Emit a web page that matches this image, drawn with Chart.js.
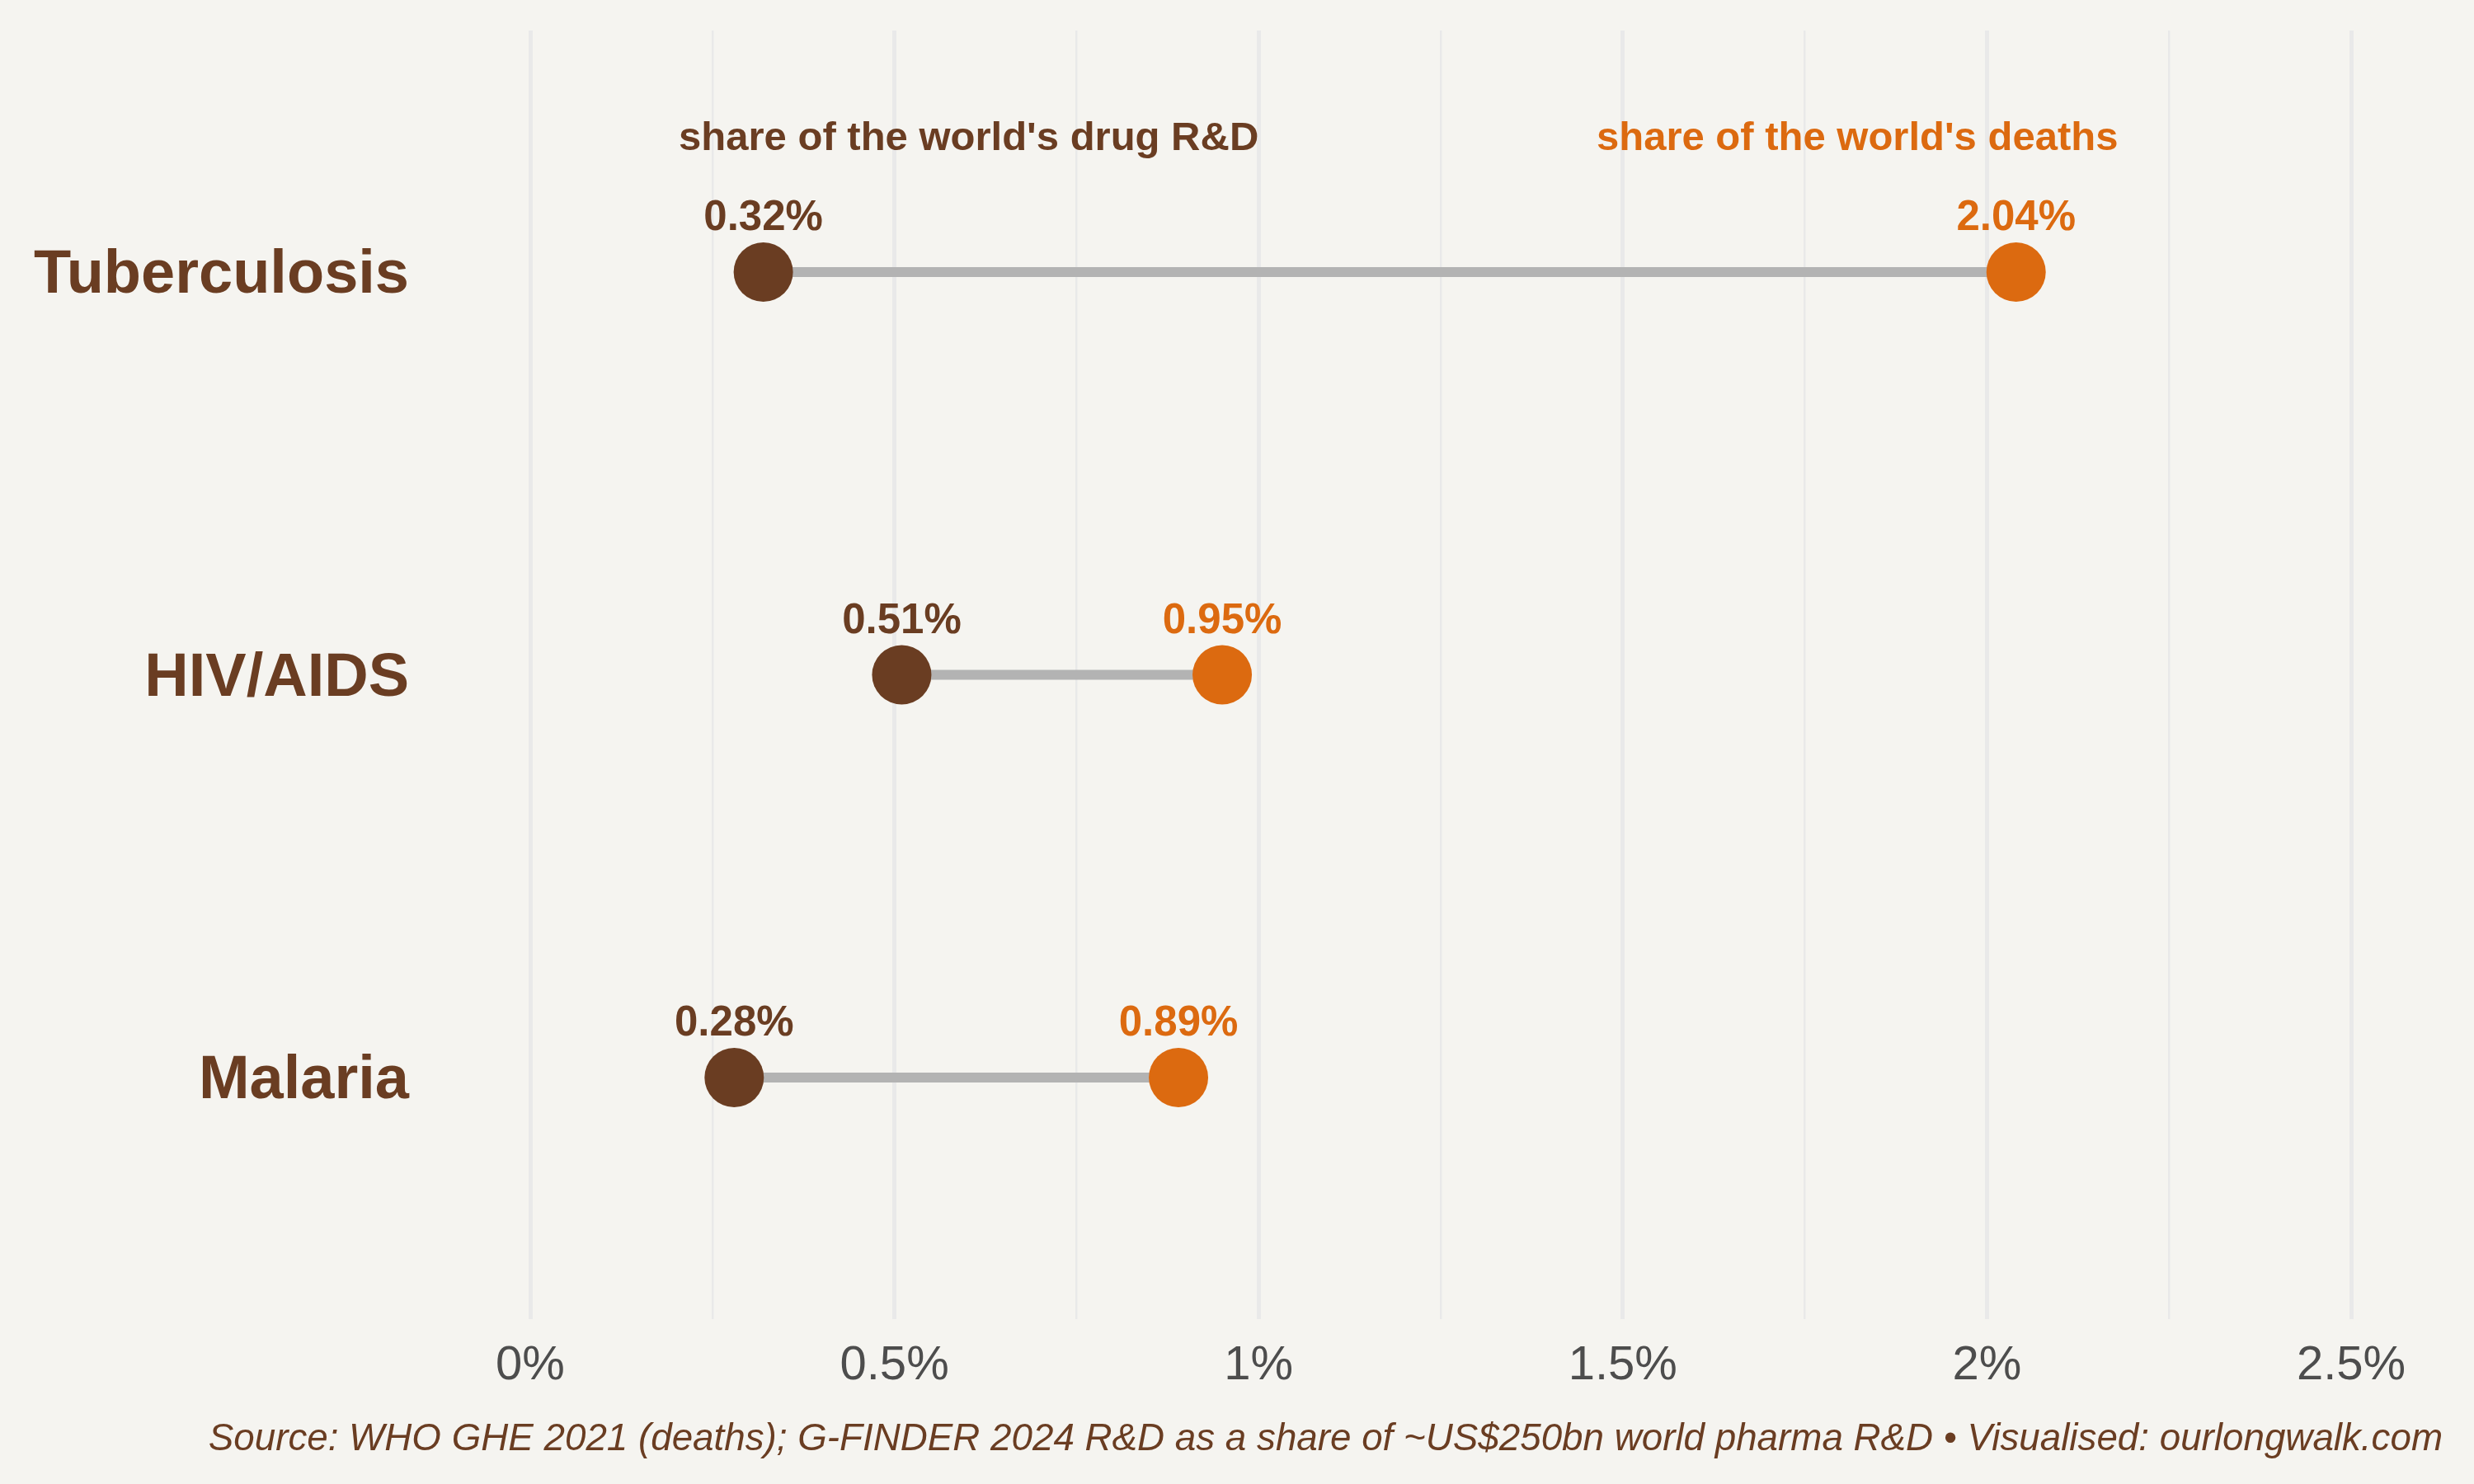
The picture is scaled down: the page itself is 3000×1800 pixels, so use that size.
<!DOCTYPE html>
<html lang="en">
<head>
<meta charset="UTF-8">
<title>Drug R&amp;D vs deaths</title>
<script src="https://cdn.jsdelivr.net/npm/chart.js"></script>
<style>
  html, body { margin: 0; padding: 0; background: #F5F4F0; }
  #wrap { width: 3000px; height: 1800px; position: relative; }
</style>
</head>
<body>
<div id="wrap"><canvas id="dumbbell"></canvas></div>
<script>
// data
const diseases = ['Tuberculosis', 'HIV/AIDS', 'Malaria'];
const rdShare = [0.32, 0.51, 0.28];      // share of world drug R&D (%)
const deathShare = [2.04, 0.95, 0.89];   // share of world deaths (%)
const xTickValues = [0, 0.5, 1, 1.5, 2, 2.5];
const xTickLabels = ['0%', '0.5%', '1%', '1.5%', '2%', '2.5%'];

const BROWN = '#6A3D22';
const ORANGE = '#DC6A10';
const FONT = '"Liberation Sans", Arial, Helvetica, sans-serif';

// grey connecting segments, one per disease
const segments = diseases.map((d, i) => ({
    label: d,
    data: [{ x: rdShare[i], y: i + 1 }, { x: deathShare[i], y: i + 1 }],
    showLine: true,
    borderColor: '#B3B3B3',
    borderWidth: 12,
    borderCapStyle: 'butt',
    pointRadius: 0,
    order: 5
}));

const textPlugin = {
    id: 'texts',
    afterDatasetsDraw(chart) {
        const ctx = chart.ctx;
        const xs = chart.scales.x, ys = chart.scales.y;
        ctx.save();
        ctx.textAlign = 'center';
        ctx.textBaseline = 'middle';

        // value labels above each dot
        ctx.font = 'bold 51px ' + FONT;
        [['rd', rdShare, BROWN], ['deaths', deathShare, ORANGE]].forEach(([id, vals, col]) => {
            const idx = chart.data.datasets.findIndex(ds => ds.id === id);
            chart.getDatasetMeta(idx).data.forEach((pt, j) => {
                ctx.fillStyle = col;
                ctx.fillText(vals[j].toFixed(2) + '%', pt.x, pt.y - 65);
            });
        });

        // series headers
        ctx.font = 'bold 49px ' + FONT;
        ctx.fillStyle = BROWN;
        ctx.fillText("share of the world's drug R&D", xs.getPixelForValue(0.602), ys.getPixelForValue(0.67));
        ctx.fillStyle = ORANGE;
        ctx.fillText("share of the world's deaths", xs.getPixelForValue(1.822), ys.getPixelForValue(0.67));

        // caption
        ctx.font = 'italic 45.75px ' + FONT;
        ctx.fillStyle = BROWN;
        ctx.textAlign = 'right';
        ctx.fillText('Source: WHO GHE 2021 (deaths); G-FINDER 2024 R&D as a share of ~US$250bn world pharma R&D \u2022 Visualised: ourlongwalk.com', 2962, 1746);
        ctx.restore();
    }
};

new Chart(document.getElementById('dumbbell'), {
    type: 'scatter',
    data: {
        datasets: [
            {
                id: 'rd',
                label: "share of the world's drug R&D",
                data: rdShare.map((v, i) => ({ x: v, y: i + 1 })),
                backgroundColor: BROWN,
                borderWidth: 0,
                pointRadius: 36,
                order: 1
            },
            {
                id: 'deaths',
                label: "share of the world's deaths",
                data: deathShare.map((v, i) => ({ x: v, y: i + 1 })),
                backgroundColor: ORANGE,
                borderWidth: 0,
                pointRadius: 36,
                order: 1
            },
            ...segments
        ]
    },
    options: {
        responsive: true,
        maintainAspectRatio: false,
        animation: false,
        events: [],
        layout: { padding: { top: 37, right: 149, left: 0, bottom: 0 } },
        plugins: {
            legend: { display: false },
            tooltip: { enabled: false }
        },
        scales: {
            x: {
                type: 'linear',
                min: 0,
                max: 2.5,
                afterFit: s => { s.height = 200; },
                border: { display: false },
                grid: {
                    drawTicks: false,
                    color: '#E9E9E9',
                    lineWidth: c => (xTickValues.includes(c.tick.value) ? 5 : 2.5)
                },
                ticks: {
                    stepSize: 0.25,
                    padding: 22,
                    color: '#4D4D4D',
                    font: { family: FONT, size: 58 },
                    maxRotation: 0,
                    autoSkip: false,
                    callback: v => {
                        const k = xTickValues.indexOf(v);
                        return k >= 0 ? xTickLabels[k] : '';
                    }
                }
            },
            y: {
                type: 'linear',
                reverse: true,
                min: 0.4,
                max: 3.6,
                afterFit: s => { s.width = 643; s.paddingTop = 0; s.paddingBottom = 0; },
                afterBuildTicks: s => { s.ticks = diseases.map((d, i) => ({ value: i + 1 })); },
                border: { display: false },
                grid: { display: false, drawTicks: false },
                ticks: {
                    padding: 147,
                    labelOffset: 5,
                    color: BROWN,
                    font: { family: FONT, size: 74, weight: 'bold' },
                    callback: v => diseases[v - 1]
                }
            }
        }
    },
    plugins: [textPlugin]
});
</script>
</body>
</html>
